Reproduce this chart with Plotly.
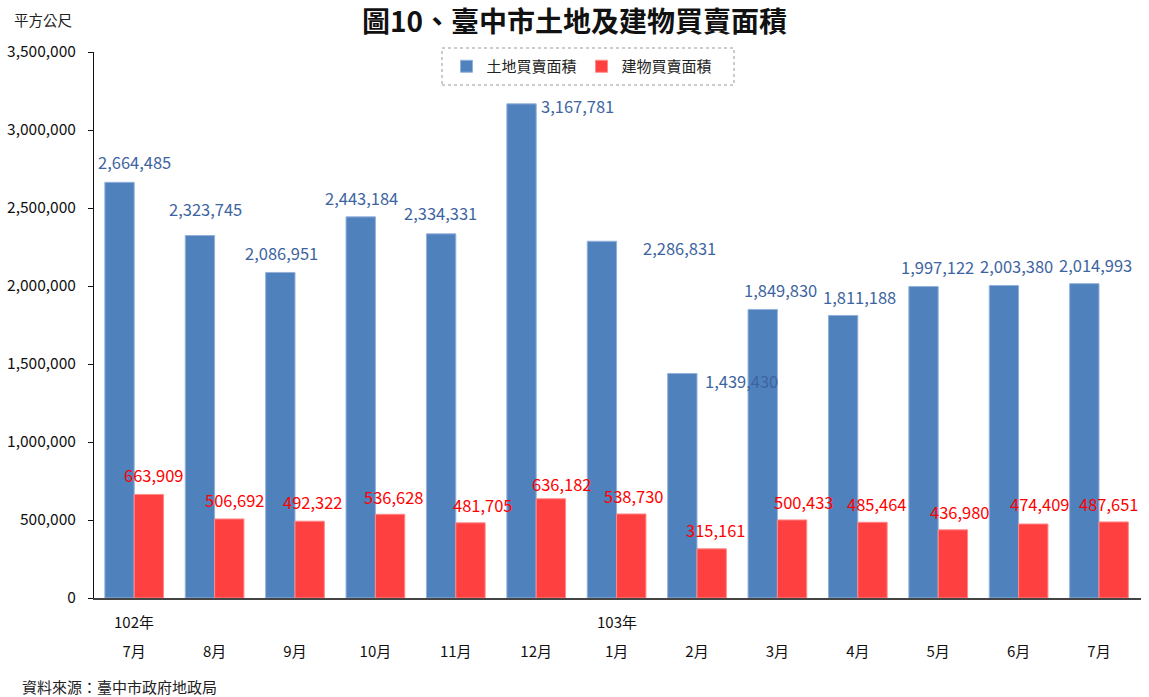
import plotly.graph_objects as go

months = ["7月", "8月", "9月", "10月", "11月", "12月", "1月", "2月", "3月", "4月", "5月", "6月", "7月"]
cat_ids = ["102-07", "102-08", "102-09", "102-10", "102-11", "102-12",
           "103-01", "103-02", "103-03", "103-04", "103-05", "103-06", "103-07"]
years = {"102-07": "102年", "103-01": "103年"}
land = [2664485, 2323745, 2086951, 2443184, 2334331, 3167781, 2286831,
        1439430, 1849830, 1811188, 1997122, 2003380, 2014993]
building = [663909, 506692, 492322, 536628, 481705, 636182, 538730,
            315161, 500433, 485464, 436980, 474409, 487651]

# label offsets (pixels) relative to group centre / bar top
land_dx = [0, -9, -14, -14, -15, 41, 63, 44, 3, 2, -1, -2, -4]
land_dy = [20, 27, 19, 19, 21, -2, -7, -8, 19, 18, 19, 19, 19]
bld_dx = [20, 20, 18, 19, 27, 26, 17, 19, 27, 19, 22, 21, 10]
bld_dy = [19, 19, 19, 17, 18, 15, 18, 19, 18, 18, 18, 20, 18]

BLUE = "#4F81BD"
RED = "#FF4040"
FONT = "Noto Sans CJK TC"

fig = go.Figure()
fig.add_trace(go.Bar(x=cat_ids, y=land, name="土地買賣面積",
                     marker=dict(color=BLUE, line=dict(color="#95B1DA", width=1))))
fig.add_trace(go.Bar(x=cat_ids, y=building, name="建物買賣面積",
                     marker=dict(color=RED, line=dict(color="#FF8A8A", width=1))))

annotations = []
for c, v, dx, dy in zip(cat_ids, land, land_dx, land_dy):
    annotations.append(dict(x=c, y=v, xref="x", yref="y", text=f"{v:,}", showarrow=False,
                            xshift=dx, yshift=dy, font=dict(family=FONT, size=16.5, color="#3E64A0")))
for c, v, dx, dy in zip(cat_ids, building, bld_dx, bld_dy):
    annotations.append(dict(x=c, y=v, xref="x", yref="y", text=f"{v:,}", showarrow=False,
                            xshift=dx, yshift=dy, font=dict(family=FONT, size=16.5, color="#FF0000")))
for c, t in years.items():
    annotations.append(dict(x=c, y=0, xref="x", yref="paper", text=t, showarrow=False,
                            yanchor="middle", yshift=-23,
                            font=dict(family=FONT, size=15, color="#111")))

L, R, T, B = 94, 8, 52, 99
W, H = 1149, 697
pw, ph = W - L - R, H - T - B


def px_x(x):
    return (x - L) / pw


def px_y(y):
    return (H - B - y) / ph


annotations.append(dict(x=px_x(12), y=px_y(20), xref="paper", yref="paper", text="平方公尺",
                        showarrow=False, font=dict(family=FONT, size=14.5, color="#222"),
                        xanchor="left", yanchor="middle"))
annotations.append(dict(x=px_x(20), y=px_y(686), xref="paper", yref="paper",
                        text="資料來源：臺中市政府地政局", showarrow=False,
                        font=dict(family=FONT, size=15, color="#222"),
                        xanchor="left", yanchor="middle"))

fig.update_layout(
    width=W, height=H,
    margin=dict(l=L, r=R, t=T, b=B),
    paper_bgcolor="white", plot_bgcolor="white",
    font=dict(family=FONT, size=15, color="#111"),
    title=dict(text="<b>圖10、臺中市土地及建物買賣面積</b>", x=0.5, xanchor="center",
               y=1 - 22 / H, yanchor="middle", font=dict(family=FONT, size=28, color="#111")),
    bargap=0.27, bargroupgap=0,
    barmode="group",
    showlegend=True,
    legend=dict(orientation="h", x=px_x(582), xanchor="center", y=px_y(66.5),
                yanchor="middle", font=dict(family=FONT, size=15, color="#222"),
                bgcolor="rgba(0,0,0,0)", traceorder="normal"),
    annotations=annotations,
    shapes=[dict(type="rect", xref="paper", yref="paper",
                 x0=px_x(442), x1=px_x(734), y0=px_y(85), y1=px_y(48),
                 line=dict(color="#999", width=1, dash="dot"))],
)
fig.update_xaxes(tickmode="array", tickvals=cat_ids, ticktext=months, showline=True,
                 linecolor="#444", linewidth=1.5, ticks="", showgrid=False,
                 ticklabelstandoff=39, tickfont=dict(family=FONT, size=15, color="#111"))
fig.update_yaxes(range=[0, 3500000], dtick=500000, tickformat=",", showline=True,
                 linecolor="#111", linewidth=1, ticks="outside", ticklen=5, tickcolor="#111",
                 ticklabelstandoff=9,
                 showgrid=False, zeroline=False, tickfont=dict(family=FONT, size=15.5, color="#111"))

fig.write_html("out.html", config={"displayModeBar": False},
               post_script="document.body.style.margin='0';document.body.style.padding='0';")
